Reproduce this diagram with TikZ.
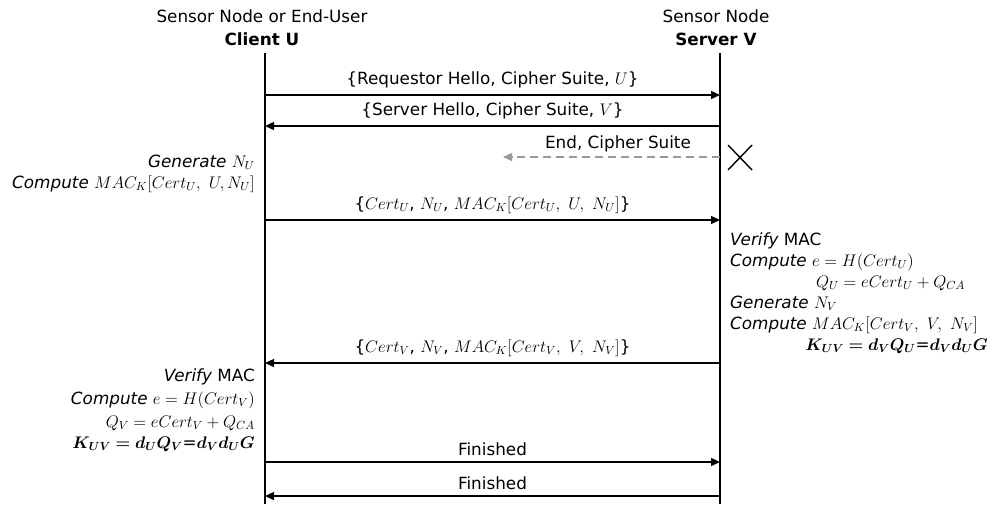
\documentclass[tikz,border=0pt]{standalone}
\usepackage{fix-cm}
\usepackage{amsmath,bm}
\usepackage{fontspec}
\setmainfont{DejaVu Sans}
\usetikzlibrary{arrows.meta}
\begin{document}
\begin{tikzpicture}[x=1pt,y=-1pt,
  every node/.style={font=\fontsize{16.8}{19}\selectfont, inner sep=0pt},
  life/.style={line width=1.4pt},
  msg/.style={line width=1.4pt,-{Triangle[length=9,width=8]}},
  lost/.style={line width=1.4pt,gray!80,dash pattern=on 8pt off 5pt,-{Triangle[length=9,width=8]}},
  lbl/.style={anchor=base},
  note/.style={anchor=base east},
  rnote/.style={anchor=base west}]
\useasboundingbox (0,0) rectangle (992,504);
% headers
\node[lbl] (h1) at (262,22) {Sensor Node or End-User};
\node[lbl] (h2) at (262,45) {\bfseries Client U};
\node[lbl] (h3) at (716,22) {Sensor Node};
\node[lbl] (h4) at (716,45) {\bfseries Server V};
% lifelines
\coordinate (Ut) at (265,53); \coordinate (Ub) at (265,504);
\coordinate (Vt) at (720,53); \coordinate (Vb) at (720,504);
\draw[life] (Ut) -- (Ub);
\draw[life] (Vt) -- (Vb);
% message points
\foreach \n/\y in {1/95,2/126,4/220,5/363,6/462,7/496}{
  \coordinate (u\n) at (265,\y);
  \coordinate (v\n) at (720,\y);
}
\coordinate (v3) at (720,157);
\coordinate (e3) at (503,157);
% messages
\draw[msg] (u1) -- (v1) node[lbl,midway,above=6pt] (m1) {\{Requestor Hello, Cipher Suite, $U$\}};
\draw[msg] (v2) -- (u2) node[lbl,midway,above=6pt] (m2) {\{Server Hello, Cipher Suite, $V$\}};
\draw[lost] (v3) -- (e3);
\node[lbl] (m3) at (618,148) {End, Cipher Suite};
\draw[line width=1.4pt] (728,145) -- (752,170) (728,170) -- (752,145);
\draw[msg] (u4) -- (v4) node[lbl,midway,above=6pt] (m4) {\{$Cert_U$, $N_U$, $MAC_K[Cert_U,\ U,\ N_U]$\}};
\draw[msg] (v5) -- (u5) node[lbl,midway,above=6pt] (m5) {\{$Cert_V$, $N_V$, $MAC_K[Cert_V,\ V,\ N_V]$\}};
\draw[msg] (u6) -- (v6) node[lbl,midway,above=6pt] (m6) {Finished};
\draw[msg] (v7) -- (u7) node[lbl,midway,above=6pt] (m7) {Finished};
% client notes
\node[note] (c1) at (255,167) {\itshape Generate $N_U$};
\node[note] (c2) at (255,188) {\itshape Compute $MAC_K[Cert_U,\ U, N_U]$};
\node[note] (c3) at (255,381) {\itshape Verify \upshape MAC};
\node[note] (c4) at (255,404) {\itshape Compute $e=H(Cert_V)$};
\node[note] (c5) at (255,427) {$Q_V=eCert_V+Q_{CA}$};
\node[note] (c6) at (255,448) {$\bm{K_{UV}=d_UQ_V}$=$\bm{d_Vd_UG}$};
% server notes
\node[rnote] (s1) at (730,245) {\itshape Verify \upshape MAC};
\node[rnote] (s2) at (730,266) {\itshape Compute $e=H(Cert_U)$};
\node[rnote] (s3) at (816,287) {$Q_U=eCert_U+Q_{CA}$};
\node[rnote] (s4) at (730,308) {\itshape Generate $N_V$};
\node[rnote] (s5) at (730,329) {\itshape Compute $MAC_K[Cert_V,\ V,\ N_V]$};
\node[anchor=base east] (s6) at (988,350) {$\bm{K_{UV}=d_VQ_U}$=$\bm{d_Vd_UG}$};
\end{tikzpicture}
\end{document}
